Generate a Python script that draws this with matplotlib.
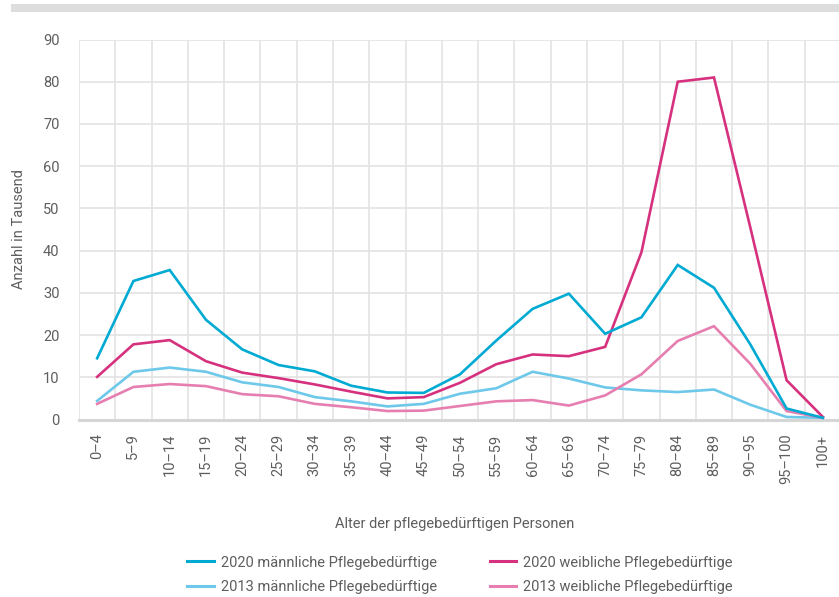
import matplotlib
matplotlib.use("Agg")
import matplotlib.pyplot as plt
from matplotlib.lines import Line2D
from matplotlib.patches import Rectangle

categories = ["0–4", "5–9", "10–14", "15–19", "20–24", "25–29", "30–34", "35–39",
              "40–44", "45–49", "50–54", "55–59", "60–64", "65–69", "70–74", "75–79",
              "80–84", "85–89", "90–95", "95–100", "100+"]

male_2020 = [14.5, 32.8, 35.4, 23.6, 16.6, 12.9, 11.4, 8.0, 6.4, 6.3, 10.7, 18.7,
             26.2, 29.8, 20.3, 24.2, 36.6, 31.2, 17.8, 2.6, 0.4]
female_2020 = [10.1, 17.8, 18.8, 13.8, 11.1, 9.8, 8.3, 6.6, 5.0, 5.3, 8.7, 13.1,
               15.4, 15.0, 17.2, 39.6, 80.0, 81.0, 45.5, 9.3, 0.6]
male_2013 = [4.4, 11.3, 12.3, 11.3, 8.8, 7.7, 5.3, 4.3, 3.1, 3.7, 6.1, 7.4,
             11.3, 9.7, 7.6, 6.9, 6.5, 7.1, 3.5, 0.6, 0.4]
female_2013 = [3.7, 7.7, 8.4, 7.9, 6.0, 5.5, 3.7, 2.9, 2.0, 2.1, 3.2, 4.3,
               4.6, 3.3, 5.7, 10.7, 18.6, 22.1, 13.2, 2.0, 0.4]

series_labels = ["2020 männliche Pflegebedürftige", "2020 weibliche Pflegebedürftige",
                 "2013 männliche Pflegebedürftige", "2013 weibliche Pflegebedürftige"]
colors = ["#00aad2", "#d6317e", "#6dc8ea", "#e67fb0"]

y_ticks = [0, 10, 20, 30, 40, 50, 60, 70, 80, 90]
y_label = "Anzahl in Tausend"
x_label = "Alter der pflegebedürftigen Personen"

plt.rcParams['font.family'] = ['Roboto', 'DejaVu Sans']
text_color = "#5e5e5e"
grid_color = "#e3e3e3"

fig = plt.figure(figsize=(8.39, 5.97), dpi=100)
W, H = 839, 597
# top grey bar
fig.patches.append(Rectangle((10.5 / W, 1 - 11.7 / H), 1, 7.7 / H,
                             transform=fig.transFigure, facecolor="#dddddd",
                             edgecolor="none"))

ax = fig.add_axes([79 / W, 1 - 419.5 / H, 762 / W, 380 / H])
x = list(range(len(categories)))

ax.plot(x, male_2013, color=colors[2], lw=1.9, solid_joinstyle="miter", zorder=3)
ax.plot(x, female_2013, color=colors[3], lw=1.9, solid_joinstyle="miter", zorder=3)
ax.plot(x, female_2020, color=colors[1], lw=1.9, solid_joinstyle="miter", zorder=4)
ax.plot(x, male_2020, color=colors[0], lw=1.9, solid_joinstyle="miter", zorder=5)

ax.set_xlim(-0.5, len(categories) - 0.5)
ax.set_ylim(0, 90)
ax.set_yticks(y_ticks)
ax.set_xticks(x)
ax.set_xticklabels(categories, rotation=90, va="top", ha="center")
ax.tick_params(axis="both", length=0, colors=text_color, labelsize=10.5)
ax.tick_params(axis="y", pad=14)
ax.tick_params(axis="x", pad=10)

for v in y_ticks[1:]:
    ax.axhline(v, color=grid_color, lw=1.2, zorder=1)
for b in range(len(categories) + 1):
    ax.axvline(b - 0.5, color=grid_color, lw=1.2, zorder=1)
ax.axhline(0, color="#d6d6d6", lw=2.2, zorder=2, clip_on=False)

for s in ax.spines.values():
    s.set_visible(False)

ax.set_ylabel(y_label, color=text_color, fontsize=10.5)
ax.yaxis.set_label_coords(-53 / 762, 0.5)
ax.set_xlabel(x_label, color=text_color, fontsize=10.5)
ax.xaxis.set_label_coords((455 - 79) / 762, -(517 - 419.5) / 380)

# legend: matplotlib fills column-wise
order = [0, 2, 1, 3]
handles = [Line2D([], [], color=colors[i], lw=2.2) for i in order]
labels = [series_labels[i] for i in order]
leg = fig.legend(handles, labels, ncol=2, loc="center",
                 bbox_to_anchor=(460 / W, 1 - 575 / H), frameon=False,
                 fontsize=10.5, labelcolor=text_color, handlelength=1.8,
                 handletextpad=0.5, columnspacing=3.6, labelspacing=0.75)

fig.savefig("out.png", dpi=100)
